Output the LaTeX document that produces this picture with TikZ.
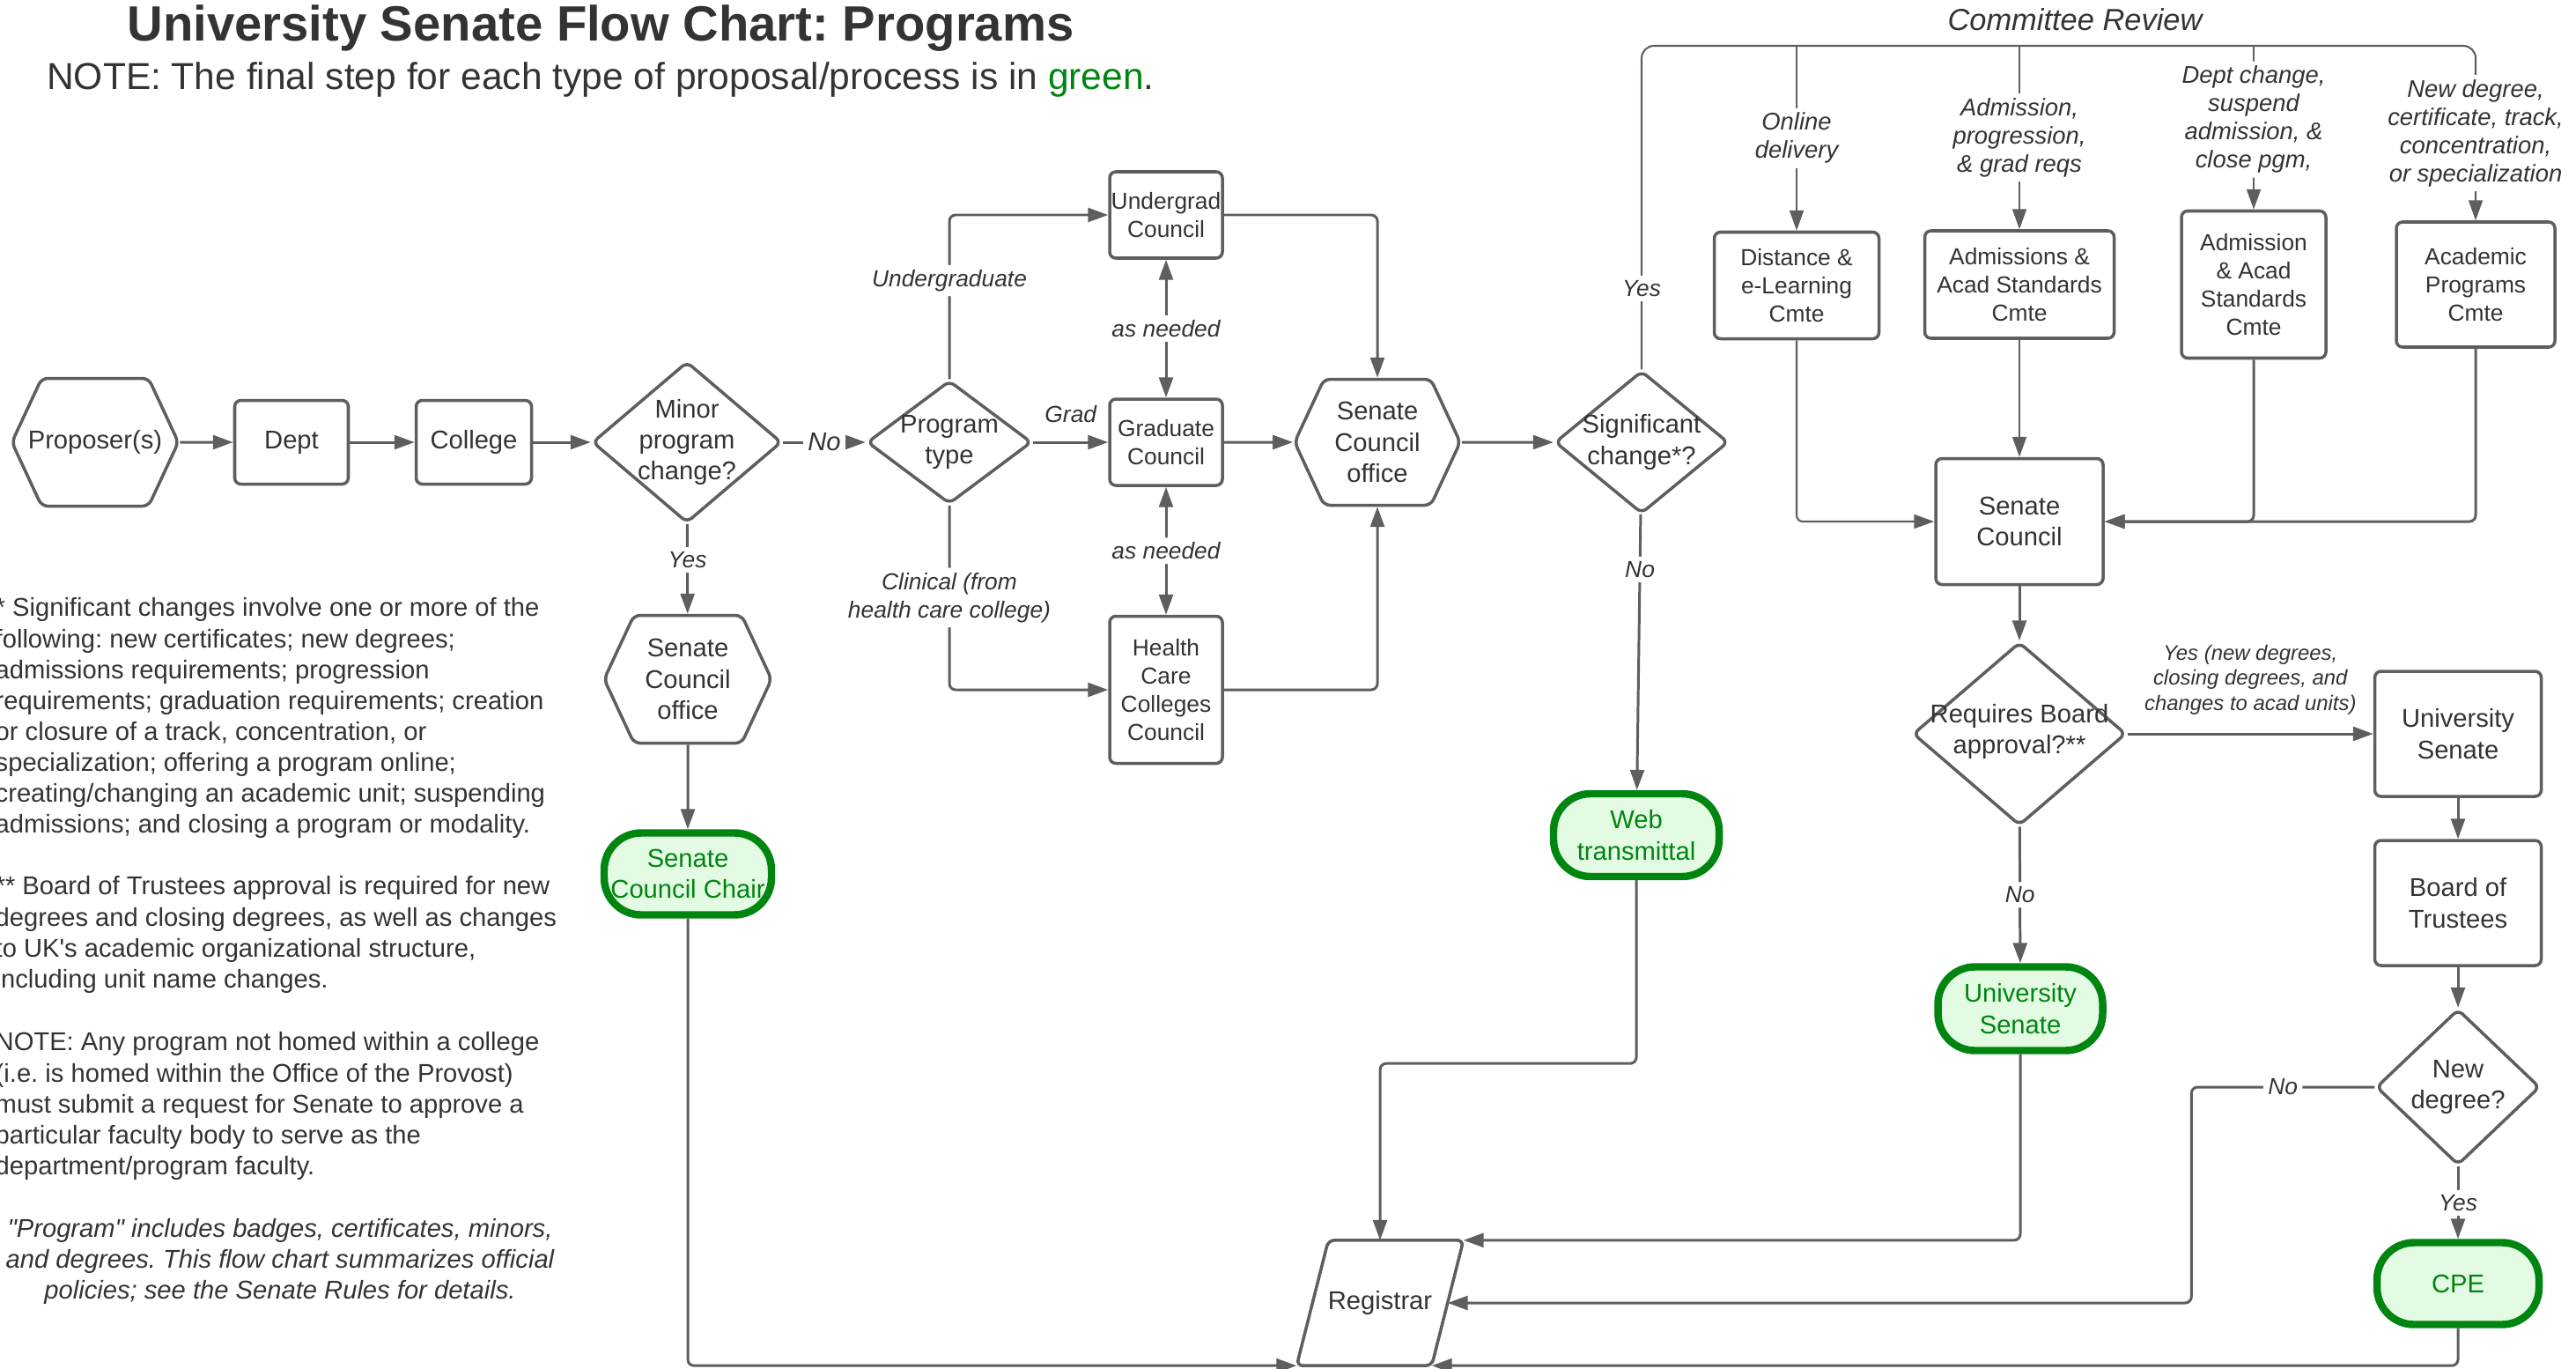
\documentclass[tikz,border=0pt]{standalone}
\usepackage{fontspec}
\setmainfont{Liberation Sans}[Ligatures=TeXOff]
\frenchspacing
\usetikzlibrary{arrows.meta,shapes.geometric,shapes.misc,shapes.symbols}
\definecolor{lcline}{RGB}{94,94,94}
\definecolor{lctext}{RGB}{51,51,51}
\definecolor{lcgreen}{RGB}{0,134,16}
\definecolor{lcfill}{RGB}{227,250,227}

\begin{document}
\begin{tikzpicture}[>={Triangle[length=6.5pt,width=4.5pt]},
    every node/.style={text=lctext, font=\fontsize{8.3}{10}\selectfont},
    dims/.style 2 args={minimum width=#1cm, minimum height=#2cm},
    shp/.style={draw=lcline, line width=1pt, align=center, inner sep=0pt, fill=white},
    box/.style={shp, rectangle, rounded corners=2pt},
    cmte/.style={box, font=\fontsize{7.5}{9.1}\selectfont},
    hexa/.style={shp, signal, signal to=east and west, signal pointer angle=130, inner xsep=-0.3cm, rounded corners=2pt},
    decision/.style={shp, diamond, inner sep=-0.6cm, rounded corners=2pt},
    endstep/.style={draw=lcgreen, line width=2.4pt, fill=lcfill, text=lcgreen, rounded corners=0.42cm, align=center, inner sep=0pt},
    arr/.style={draw=lcline, line width=0.85pt, ->, rounded corners=2pt},
    thinarr/.style={arr, line width=0.6pt},
    lbl/.style={fill=white, inner sep=1.5pt, font=\fontsize{7.5}{9.2}\selectfont\itshape, align=center},
    cmtelbl/.style={lbl, font=\fontsize{7.8}{9.1}\selectfont\itshape},
    note/.style={anchor=north west, align=left, inner sep=0pt}]
        \useasboundingbox (0,0) rectangle (29.25,-15.53);

        \node[font=\fontsize{16}{19}\selectfont\bfseries] (title) at (6.82,-0.32) {University Senate Flow Chart: Programs};
        \node[font=\fontsize{12.1}{14}\selectfont] (subtitle) at (6.82,-0.91) {NOTE: The final step for each type of proposal/process is in \textcolor{lcgreen}{green}.};
        \node[font=\fontsize{9.8}{12}\selectfont\itshape] (cmtehead) at (23.56,-0.22) {Committee Review};

        \node[hexa, dims={1.89}{1.45}] (prop) at (1.08,-5.02) {Proposer(s)};
        \node[box, dims={1.29}{0.95}] (dept) at (3.31,-5.02) {Dept};
        \node[box, dims={1.31}{0.95}] (coll) at (5.38,-5.02) {College};
        \node[decision, dims={2.15}{1.83}] (minor) at (7.80,-5.02) {Minor\\program\\change?};
        \node[hexa, dims={1.90}{1.45}] (sco1) at (7.81,-7.71) {Senate\\Council\\office};
        \node[endstep, dims={1.90}{0.93}] (chair) at (7.81,-9.92) {Senate\\Council Chair};

        \node[decision, dims={1.87}{1.40}] (ptype) at (10.78,-5.02) {Program\\type};
        \node[cmte, dims={1.28}{0.98}] (ugc) at (13.24,-2.44) {Undergrad\\Council};
        \node[cmte, dims={1.28}{0.98}] (gc) at (13.24,-5.02) {Graduate\\Council};
        \node[cmte, dims={1.28}{1.67}] (hcc) at (13.24,-7.83) {Health\\Care\\Colleges\\Council};
        \node[hexa, dims={1.88}{1.43}] (sco2) at (15.64,-5.02) {Senate\\Council\\office};
        \node[decision, dims={1.97}{1.62}] (sig) at (18.64,-5.02) {Significant\\change*?};
        \node[endstep, dims={1.88}{0.94}] (web) at (18.58,-9.48) {Web\\transmittal};

        \node[cmte, dims={1.87}{1.21}] (dlc) at (20.40,-3.24) {Distance \&\\e-Learning\\Cmte};
        \node[cmte, dims={2.15}{1.22}] (aasc) at (22.93,-3.23) {Admissions \&\\Acad Standards\\Cmte};
        \node[cmte, dims={1.64}{1.67}] (aasc2) at (25.59,-3.23) {Admission\\\& Acad\\Standards\\Cmte};
        \node[cmte, dims={1.80}{1.42}] (apc) at (28.11,-3.23) {Academic\\Programs\\Cmte};
        \node[box, dims={1.90}{1.43}] (sc) at (22.93,-5.92) {Senate\\Council};
        \node[decision, dims={2.42}{2.08}] (board) at (22.93,-8.33) {\\[-1.2ex]Requires Board\\approval?**};
        \node[endstep, dims={1.87}{0.95}] (usg) at (22.94,-11.45) {University\\Senate};
        \node[box, dims={1.89}{1.42}] (us) at (27.91,-8.33) {University\\Senate};
        \node[box, dims={1.89}{1.42}] (bot) at (27.91,-10.25) {Board of\\Trustees};
        \node[decision, dims={1.86}{1.77}] (newdeg) at (27.91,-12.34) {New\\degree?};
        \node[endstep, dims={1.84}{0.93}] (cpe) at (27.91,-14.57) {CPE};

        % registrar: slanted box round a plain node
        \node[inner sep=0pt, dims={1.52}{1.41}] (reg) at (15.67,-14.79) {Registrar};
        \draw[draw=lcline, line width=1pt, rounded corners=2pt] ([xshift=-0.18cm]reg.south west) -- ([xshift=0.18cm]reg.north west)
            -- ([xshift=0.18cm]reg.north east) -- ([xshift=-0.18cm]reg.south east) -- cycle;

        \node[note] (fn1) at (-0.06,-6.78) {* Significant changes involve one or more of the\\
            following: new certificates; new degrees;\\
            admissions requirements; progression\\
            requirements; graduation requirements; creation\\
            or closure of a track, concentration, or\\
            specialization; offering a program online;\\
            creating/changing an academic unit; suspending\\
            admissions; and closing a program or modality.};
        \node[note] (fn2) at (-0.06,-9.94) {** Board of Trustees approval is required for new\\
            degrees and closing degrees, as well as changes\\
            to UK's academic organizational structure,\\
            including unit name changes.};
        \node[note] (fn3) at (-0.06,-11.71) {NOTE: Any program not homed within a college\\
            (i.e. is homed within the Office of the Provost)\\
            must submit a request for Senate to approve a\\
            particular faculty body to serve as the\\
            department/program faculty.};
        \node[note, anchor=north, align=center, font=\fontsize{8.3}{9.9}\selectfont\itshape] (fn4) at (3.18,-13.83)
            {"Program" includes badges, certificates, minors,\\
            and degrees. This flow chart summarizes official\\
            policies; see the Senate Rules for details.};

        \draw[arr] (prop) -- (dept);
        \draw[arr] (dept) -- (coll);
        \draw[arr] (coll) -- (minor);
        \draw[arr] (minor) -- node[lbl, font=\fontsize{8.3}{10}\selectfont\itshape]{No} (ptype);
        \draw[arr] (minor) -- node[lbl, pos=0.4]{Yes} (sco1);
        \draw[arr] (sco1) -- (chair);
        \draw[arr] (chair.south) |- ([xshift=-0.18cm]reg.south west);

        \draw[arr] (ptype.north) |- node[lbl, pos=0.3]{Undergraduate} (ugc.west);
        \draw[arr] (ptype) -- node[lbl, fill=none, above=4.5pt]{Grad} (gc);
        \draw[arr] (ptype.south) |- node[lbl, pos=0.25]{Clinical (from\\health care college)} (hcc.west);
        \draw[arr, <->] (ugc) -- node[lbl]{as needed} (gc);
        \draw[arr, <->] (gc) -- node[lbl]{as needed} (hcc);
        \draw[arr] (ugc.east) -| (sco2.north);
        \draw[arr] (gc) -- (sco2);
        \draw[arr] (hcc.east) -| (sco2.south);
        \draw[arr] (sco2) -- (sig);
        \draw[arr] (sig) -- node[lbl, pos=0.2]{No} (web);
        \draw[arr] (web.south) -- ++(0,-2.08) -| (reg.north);

        \coordinate (rail) at (18.64,-0.52);
        \draw[thinarr, rounded corners=4pt] (sig.north) -- node[lbl, pos=0.25]{Yes} (rail)
            -| node[cmtelbl, pos=0.75]{New degree,\\certificate, track,\\concentration,\\or specialization} (apc.north);
        \draw[thinarr] (rail -| dlc.north) -- node[cmtelbl]{Online\\delivery} (dlc.north);
        \draw[thinarr] (rail -| aasc.north) -- node[cmtelbl]{Admission,\\progression,\\\& grad reqs} (aasc.north);
        \draw[thinarr] (rail -| aasc2.north) -- node[cmtelbl, pos=0.45]{Dept change,\\suspend\\admission, \&\\close pgm,} (aasc2.north);
        \draw[thinarr] (dlc.south) |- (sc.west);
        \draw[thinarr] (aasc) -- (sc);
        \draw[arr] (aasc2.south) |- (sc.east);
        \draw[arr] (apc.south) |- (sc.east);

        \draw[arr] (sc) -- (board);
        \draw[arr] (board) -- node[above=2.5pt, font=\fontsize{6.8}{8.1}\selectfont\itshape, align=center]
            {Yes (new degrees,\\closing degrees, and\\changes to acad units)} (us);
        \draw[arr] (board) -- node[lbl]{No} (usg);
        \draw[arr] (usg.south) |- ([xshift=0.18cm]reg.north east);
        \draw[arr] (us) -- (bot);
        \draw[arr] (bot) -- (newdeg);
        \draw[arr] (newdeg) -- node[lbl]{Yes} (cpe);
        \draw[arr] (newdeg.west) -- node[lbl]{No} ++(-2.08,0) |- (reg.east);
        \draw[arr] (cpe.south) |- ([xshift=-0.18cm]reg.south east);
    \end{tikzpicture}
\end{document}
